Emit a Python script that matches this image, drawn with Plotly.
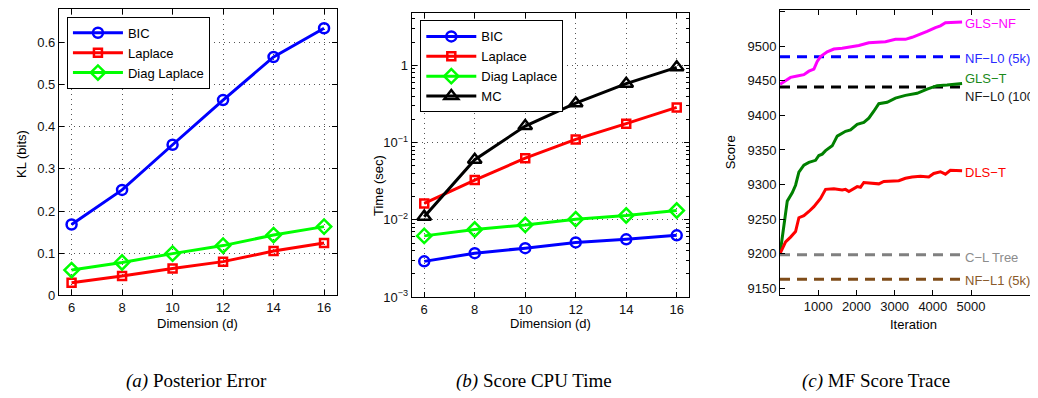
import plotly.graph_objects as go

# ---------------- data ----------------
dims = [6, 8, 10, 12, 14, 16]

# (a) Posterior Error, KL (bits)
kl_bic = [0.168, 0.250, 0.357, 0.463, 0.565, 0.633]
kl_laplace = [0.030, 0.046, 0.064, 0.080, 0.105, 0.124]
kl_diag = [0.060, 0.078, 0.099, 0.118, 0.143, 0.163]

# (b) Score CPU Time, seconds
t_bic = [0.0029, 0.0037, 0.0043, 0.0051, 0.0056, 0.0063]
t_laplace = [0.0163, 0.0327, 0.063, 0.110, 0.176, 0.286]
t_diag = [0.0062, 0.0075, 0.0086, 0.0102, 0.0114, 0.0132]
t_mc = [0.011, 0.060, 0.164, 0.324, 0.58, 0.944]

# (c) MF Score Trace
gls_nf_iter = [1, 276, 451, 625, 756, 887, 974, 1061, 1235, 1410, 1627, 1889, 2063,
               2324, 2586, 2760, 3021, 3283, 3458, 3588, 3850, 4067, 4198, 4329, 4765]
gls_nf_score = [9445, 9455, 9457, 9459, 9464, 9467, 9478, 9485, 9492, 9496, 9497, 9499,
                9501, 9505, 9506.5, 9506.5, 9510, 9510, 9513, 9515.5, 9521.5, 9527,
                9529.5, 9534, 9535]

gls_t_iter = [1, 102, 190, 320, 407, 494, 625, 756, 930, 1017, 1105, 1192, 1279, 1366,
              1497, 1715, 1846, 2020, 2193, 2324, 2455, 2586, 2804, 3021, 3283, 3588,
              3850, 4111, 4372, 4765]
gls_t_score = [9200, 9240, 9276, 9288, 9299, 9318, 9328, 9332, 9335, 9342, 9344, 9349,
               9353, 9356, 9370, 9377, 9379, 9387, 9390, 9396, 9406, 9417, 9419, 9425,
               9429, 9432, 9438, 9443, 9444, 9446]

dls_t_iter = [1, 146, 276, 407, 494, 625, 756, 887, 1061, 1192, 1410, 1627, 1715, 1802,
              2020, 2106, 2193, 2411, 2586, 2717, 3109, 3283, 3458, 3675, 3893, 4023,
              4198, 4329, 4459, 4765]
dls_t_score = [9200, 9217, 9224, 9232, 9252, 9255, 9261, 9268, 9280, 9293, 9294, 9292,
               9293, 9290, 9297, 9296, 9303, 9302, 9301, 9304.5, 9305.5, 9309, 9311,
               9312, 9311, 9316, 9318.5, 9315, 9320.5, 9320]

baseline_names = ["NF\u2212L0 (5k)", "NF\u2212L0 (100)", "C\u2212L Tree", "NF\u2212L1 (5k)"]
baseline_scores = [9485, 9441, 9198.5, 9163]
baseline_span = [0, 4765]

label_x = 5000
curve_labels = ["GLS\u2212NF", "NF\u2212L0 (5k)", "GLS\u2212T", "NF\u2212L0 (100)",
                "DLS\u2212T", "C\u2212L Tree", "NF\u2212L1 (5k)"]
curve_label_y = [9533, 9482, 9454, 9428, 9318, 9195, 9161]

x_ticks_c = [1000, 2000, 3000, 4000, 5000]
y_ticks_c = [9150, 9200, 9250, 9300, 9350, 9400, 9450, 9500, 9550]

# ---------------- style ----------------
FONT = "Liberation Sans, Arial, Helvetica, sans-serif"
BLUE, RED, GREEN, BLACK = "#0000ff", "#ff0000", "#00ff00", "#000000"
MAGENTA, DKGREEN, GRAY, BROWN = "#ff00ff", "#008000", "#808080", "#7f4c19"
baseline_colors = [BLUE, BLACK, GRAY, BROWN]
label_colors = [MAGENTA, "#2a2aff", "#1a8a1a", "#1a1a1a", RED, "#8c8c8c", "#8a5a2a"]

fig = go.Figure()

def series(x, y, name, color, symbol, size, xa, ya, legend):
    fig.add_trace(go.Scatter(
        x=x, y=y, name=name, mode="lines+markers", xaxis=xa, yaxis=ya,
        legend=legend,
        line=dict(color=color, width=3),
        marker=dict(symbol=symbol, size=size, color=color,
                    line=dict(color=color, width=2.5)),
    ))

# panel a
series(dims, kl_bic, "BIC", BLUE, "circle-open", 10, "x", "y", "legend")
series(dims, kl_laplace, "Laplace", RED, "square-open", 8, "x", "y", "legend")
series(dims, kl_diag, "Diag Laplace", GREEN, "diamond-open", 11, "x", "y", "legend")

# panel b
series(dims, t_bic, "BIC", BLUE, "circle-open", 10, "x2", "y2", "legend2")
series(dims, t_laplace, "Laplace", RED, "square-open", 8, "x2", "y2", "legend2")
series(dims, t_diag, "Diag Laplace", GREEN, "diamond-open", 11, "x2", "y2", "legend2")
series(dims, t_mc, "MC", BLACK, "triangle-up-open", 12, "x2", "y2", "legend2")

# panel c baselines
for name, val, col in zip(baseline_names, baseline_scores, baseline_colors):
    fig.add_trace(go.Scatter(
        x=baseline_span, y=[val, val], mode="lines", name=name, showlegend=False,
        xaxis="x3", yaxis="y3", line=dict(color=col, width=3, dash="10px,7px"),
    ))

# panel c curves
for xs, ys, col, name in [(gls_nf_iter, gls_nf_score, MAGENTA, "GLS-NF"),
                          (gls_t_iter, gls_t_score, DKGREEN, "GLS-T"),
                          (dls_t_iter, dls_t_score, RED, "DLS-T")]:
    fig.add_trace(go.Scatter(
        x=xs, y=ys, mode="lines", name=name, showlegend=False,
        xaxis="x3", yaxis="y3", line=dict(color=col, width=3),
    ))

axis_common = dict(
    showline=True, linecolor="black", linewidth=1, mirror="ticks",
    ticks="inside", ticklen=5, tickcolor="black", zeroline=False,
    tickfont=dict(family=FONT, size=13, color="#111"),
)
grid = dict(showgrid=True, gridcolor="#555", gridwidth=1, griddash="1px,4px")

W, H = 1038, 398
def dx(a, b):
    return [a / W, b / W]
def dy(top, bottom):
    return [1 - bottom / H, 1 - top / H]

minor_log = [k * 10 ** e for e in range(-3, 1) for k in range(2, 10)] + [2, 3, 4]

legend_style = dict(xanchor="left", yanchor="top", bgcolor="white",
                    bordercolor="black", borderwidth=1,
                    font=dict(family=FONT, size=13, color="black"), itemwidth=50)

fig.update_layout(
    width=W, height=H, margin=dict(l=0, r=0, t=0, b=0),
    paper_bgcolor="white", plot_bgcolor="white",
    font=dict(family=FONT, size=13, color="black"),
    xaxis=dict(domain=dx(51, 329), range=[5.5, 16.5], tickvals=dims, anchor="y",
               **axis_common, **grid),
    yaxis=dict(domain=dy(1.3, 293.3), range=[0, 0.678],
               tickvals=[0, 0.1, 0.2, 0.3, 0.4, 0.5, 0.6],
               ticktext=["0", "0.1", "0.2", "0.3", "0.4", "0.5", "0.6"], anchor="x",
               **axis_common, **grid),
    xaxis2=dict(domain=dx(404, 682), range=[5.5, 16.5], tickvals=dims, anchor="y2",
                **axis_common, **grid),
    yaxis2=dict(domain=dy(5, 295), type="log", range=[-3, 0.68], anchor="x2",
                tickvals=[0.001, 0.01, 0.1, 1],
                ticktext=["10<sup>\u22123</sup>", "10<sup>\u22122</sup>",
                          "10<sup>\u22121</sup>", "1"],
                minor=dict(tickvals=minor_log, ticks="inside", ticklen=3,
                           tickcolor="black", showgrid=False),
                **axis_common, **grid),
    xaxis3=dict(domain=dx(772.75, 1038), range=[0, 6935], tickvals=x_ticks_c,
                anchor="y3", showgrid=False, **axis_common),
    yaxis3=dict(domain=dy(2.5, 292.7), range=[9140.5, 9551.8], tickvals=y_ticks_c,
                anchor="x3", showgrid=False, **axis_common),
    legend=dict(x=59 / W, y=1 - 9 / H, **legend_style),
    legend2=dict(x=412.7 / W, y=1 - 12.7 / H, **legend_style),
)

ann = []
def text(x, y, s, size=13, angle=0, color="black", family=FONT, xanchor="center"):
    ann.append(dict(x=x / W, y=1 - y / H, xref="paper", yref="paper", text=s,
                    showarrow=False, textangle=angle, xanchor=xanchor, yanchor="middle",
                    font=dict(family=family, size=size, color=color)))

text(13, 149, "KL (bits)", angle=-90)
text(190, 322, "Dimension (d)")
text(371, 181, "Time (sec)", angle=-90)
text(543, 322, "Dimension (d)")
text(723, 147, "Score", angle=-90)
text(906, 323, "Iteration")

SERIF = "Liberation Serif, Times New Roman, serif"
text(189, 381, "<i>(a)</i> Posterior Error", size=19, family=SERIF)
text(527, 381, "<i>(b)</i> Score CPU Time", size=19, family=SERIF)
text(869, 381, "<i>(c)</i> MF Score Trace", size=19, family=SERIF)

for s, yv, col in zip(curve_labels, curve_label_y, label_colors):
    ann.append(dict(x=label_x, y=yv, xref="x3", yref="y3", text=s, showarrow=False,
                    xanchor="left", yanchor="middle", xshift=-8,
                    font=dict(family=FONT, size=13, color=col)))

fig.update_layout(annotations=ann)
fig.write_html("out.html")
